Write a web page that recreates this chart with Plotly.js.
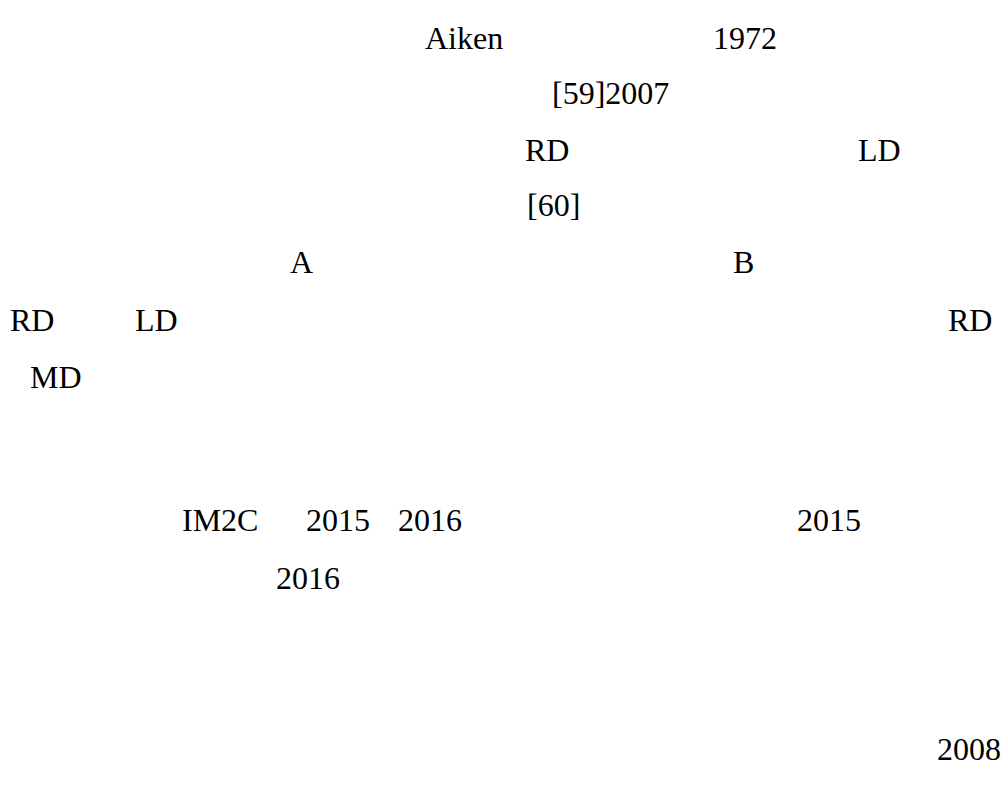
<!DOCTYPE html>
<html>
<head>
<meta charset="utf-8">
<script src="https://cdn.plot.ly/plotly-3.0.1.min.js"></script>
<style>html,body{margin:0;padding:0;background:#fff;}#chart{width:1007px;height:790px;}</style>
</head>
<body>
<div id="chart"></div>
<script>
// Visible text fragments of the page, in reading order
var words = ["Aiken", "1972", "[59]2007", "RD", "LD", "[60]", "A", "B",
             "RD", "LD", "RD", "MD", "IM2C", "2015", "2016", "2015", "2016", "2008"];
// Text line (row) each fragment sits on
var rows = [0, 0, 1, 2, 2, 3, 4, 4, 5, 5, 5, 6, 7, 7, 7, 7, 8, 9];
// Left edge of each fragment (px from page left)
var cols = [425, 713, 552, 525, 858, 527, 290, 733, 10, 135, 948, 30, 182, 306, 398, 797, 276, 937];
// Vertical centre of each row (px from page top)
var rowY = [38, 93, 150, 205, 262, 320, 377, 520, 578, 749];

var annotations = words.map(function (w, i) {
  return {
    text: w, x: cols[i], y: rowY[rows[i]], xref: "x", yref: "y",
    xanchor: "left", yanchor: "middle", showarrow: false,
    borderpad: 0, borderwidth: 0,
    font: {family: "Liberation Serif", size: 32, color: "#000"}
  };
});

Plotly.newPlot("chart", [{x: [], y: [], type: "scatter", mode: "text", showlegend: false, hoverinfo: "skip"}], {
  width: 1007, height: 790,
  margin: {l: 0, r: 0, t: 0, b: 0},
  paper_bgcolor: "#fff", plot_bgcolor: "#fff",
  font: {family: "Liberation Serif"},
  xaxis: {range: [0, 1007], visible: false, fixedrange: true},
  yaxis: {range: [790, 0], visible: false, fixedrange: true},
  annotations: annotations,
  showlegend: false
}, {staticPlot: true, displayModeBar: false});
</script>
</body>
</html>
